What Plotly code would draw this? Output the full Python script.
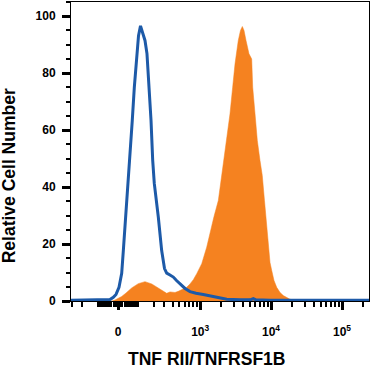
import numpy as np
import plotly.graph_objects as go

# Biexponential-like display: position (decades) = asinh(v / C) / ln(10)
C = 140.0

def scale(v):
    return np.arcsinh(np.asarray(v, dtype=float) / C) / np.log(10)

# Isotype control (blue outline), x in display-scale units
blue_x = [-0.662, -0.183, -0.113, -0.066, -0.028, 0.014, 0.052, 0.075, 0.108, 0.145,
          0.169, 0.201, 0.230, 0.263, 0.289, 0.317, 0.345, 0.380, 0.408, 0.441,
          0.465, 0.489, 0.511, 0.568, 0.615, 0.655, 0.686, 0.732, 0.779, 0.824,
          0.873, 0.944, 1.014, 1.099, 1.201, 1.296, 1.390, 1.465, 1.531, 1.718,
          1.859, 1.906, 1.944, 2.141, 3.535]
blue_y = [0.3, 0.3, 0.5, 1.3, 2.3, 4.8, 9.7, 17.7, 29.4, 41.3,
          49.3, 63.4, 75.1, 86.9, 93.2, 96.6, 94.6, 91.5, 86.9, 75.1,
          63.4, 49.3, 41.3, 29.4, 17.7, 11.4, 9.8, 9.1, 8.4, 7.2,
          6.0, 4.4, 3.3, 2.7, 2.3, 1.8, 1.3, 0.9, 0.6, 0.4,
          0.4, 0.8, 0.4, 0.3, 0.3]

# TNF RII stained cells (orange filled)
orange_x = [-0.662, -0.085, -0.042, 0.0, 0.052, 0.113, 0.193, 0.286, 0.380, 0.475,
            0.545, 0.592, 0.638, 0.686, 0.732, 0.803, 0.849, 0.920, 0.968, 1.014,
            1.061, 1.109, 1.179, 1.249, 1.296, 1.352, 1.413, 1.451, 1.483, 1.531,
            1.577, 1.615, 1.648, 1.694, 1.725, 1.751, 1.775, 1.803, 1.845, 1.883,
            1.897, 1.930, 1.962, 2.000, 2.032, 2.063, 2.092, 2.117, 2.141, 2.165,
            2.197, 2.235, 2.282, 2.328, 2.380, 2.423, 2.493, 2.563, 3.535]
orange_y = [0.0, 0.0, 0.35, 0.9, 1.6, 2.8, 4.6, 6.1, 6.8, 6.0,
            4.8, 4.0, 3.3, 2.7, 3.2, 3.0, 3.4, 4.3, 4.8, 6.0,
            7.5, 9.6, 13.1, 18.9, 24.1, 29.7, 35.3, 42.3, 48.6, 56.4,
            65.7, 75.1, 83.3, 91.5, 95.0, 96.4, 95.0, 91.5, 86.8, 85.0,
            75.1, 65.7, 56.4, 49.3, 44.1, 35.3, 26.5, 17.7, 13.5, 10.7,
            7.2, 4.8, 3.0, 1.9, 1.1, 0.6, 0.25, 0.0, 0.0]

# Axis ticks
x_major_vals = [0, 1e3, 1e4, 1e5]
x_major_text = ["0", "10<sup>3</sup>", "10<sup>4</sup>", "10<sup>5</sup>"]
x_minor_vals = ([-s * m for s in (10, 100) for m in range(1, 10) if s * m <= 300]
                + [s * m for s in (10, 100, 1000, 10000) for m in range(1, 10)]
                + [200000])
x_range = [-0.662, 3.535]
y_major_vals = [0, 20, 40, 60, 80, 100]
y_range = [0, 105]

BLUE = "#1d5aa8"
ORANGE = "#f58220"
FONT = "Liberation Sans, Arial, sans-serif"

fig = go.Figure()
fig.add_trace(go.Scatter(x=orange_x, y=orange_y, mode="lines", fill="tozeroy",
                         fillcolor=ORANGE, line=dict(color=ORANGE, width=0.5),
                         hoverinfo="skip", showlegend=False))
fig.add_trace(go.Scatter(x=blue_x, y=blue_y, mode="lines",
                         line=dict(color=BLUE, width=3),
                         hoverinfo="skip", showlegend=False))

fig.update_layout(
    width=371, height=372,
    margin=dict(l=71, r=2, t=2, b=71),
    paper_bgcolor="white", plot_bgcolor="white",
    font=dict(family=FONT, color="black"),
    xaxis=dict(range=x_range, showgrid=False, zeroline=False,
               showline=True, linecolor="black", linewidth=1, mirror=True,
               tickmode="array", tickvals=list(scale(x_major_vals)), ticktext=x_major_text,
               ticks="outside", ticklen=8, tickwidth=2.5, tickcolor="black",
               tickfont=dict(family=FONT, size=12, color="black", weight="bold"),
               ticklabelstandoff=12,
               minor=dict(tickmode="array", tickvals=list(scale(x_minor_vals)),
                          ticks="outside", ticklen=5, tickwidth=1.5, tickcolor="black",
                          showgrid=False)),
    yaxis=dict(range=y_range, showgrid=False, zeroline=False,
               showline=True, linecolor="black", linewidth=1, mirror=True,
               tickmode="array", tickvals=y_major_vals,
               ticks="outside", ticklen=8, tickwidth=3, tickcolor="black",
               tickfont=dict(family=FONT, size=12, color="black", weight="bold"),
               ticklabelstandoff=4,
               minor=dict(dtick=5, ticks="outside", ticklen=4, tickwidth=1.5,
                          tickcolor="black", showgrid=False)),
    annotations=[
        dict(text="<b>TNF RII/TNFRSF1B</b>", xref="paper", yref="paper",
             x=0.458, y=-0.194, xanchor="center", yanchor="middle", showarrow=False,
             font=dict(family=FONT, size=17.5, color="black")),
        dict(text="<b>Relative Cell Number</b>", xref="paper", yref="paper",
             x=-0.205, y=0.42, xanchor="center", yanchor="middle", textangle=-90,
             showarrow=False, font=dict(family=FONT, size=17.5, color="black")),
    ],
)

fig.write_html("out.html", config={"displayModeBar": False},
               post_script="document.body.style.margin='0';document.body.style.padding='0';")
